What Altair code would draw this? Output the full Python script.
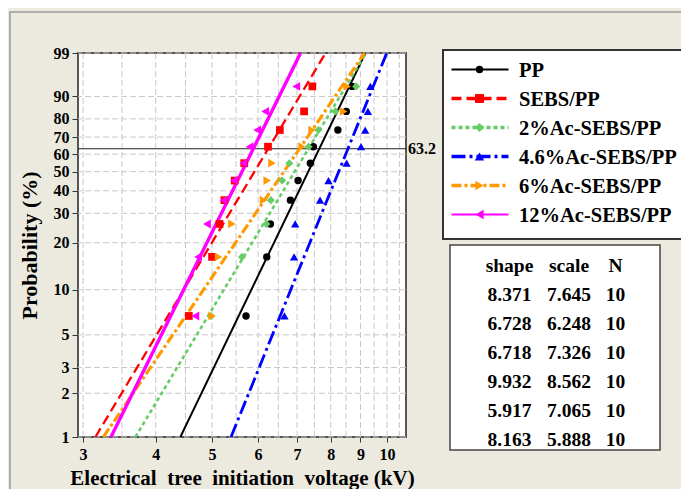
import math
import altair as alt
import pandas as pd

# ---------------- data ----------------
series = ["PP", "SEBS/PP", "2%Ac-SEBS/PP", "4.6%Ac-SEBS/PP", "6%Ac-SEBS/PP", "12%Ac-SEBS/PP"]
colors = ["#000000", "#FF0000", "#66CC66", "#0000FF", "#FF9900", "#FF00FF"]
shapes = ["circle", "square", "diamond", "triangle-up", "triangle-right", "triangle-left"]
sizes = [55, 80, 85, 90, 90, 90]
dashes = [[1, 0], [10, 5], [4, 3], [14, 4, 3, 4], [10, 3, 3, 3], [1, 0]]
widths = [2, 3.4, 3.6, 3.4, 3.4, 2]

prob = [6.7, 16.3, 26.0, 35.6, 45.2, 54.8, 64.4, 74.0, 83.7, 93.3]
v_pp = [5.72, 6.21, 6.30, 6.82, 7.03, 7.38, 7.47, 8.23, 8.51, 8.71]
v_sebs = [4.56, 5.00, 5.15, 5.25, 5.47, 5.68, 6.24, 6.54, 7.20, 7.44]
v_2ac = [4.98, 5.63, 6.20, 6.31, 6.60, 6.79, 7.33, 7.62, 8.15, 8.85]
v_46ac = [6.66, 6.92, 6.95, 7.67, 7.93, 8.52, 9.02, 9.17, 9.27, 9.36]
v_6ac = [5.00, 5.13, 5.41, 6.13, 6.22, 6.34, 7.14, 7.43, 8.42, 8.54]
v_12ac = [4.68, 4.73, 4.90, 5.23, 5.45, 5.66, 5.80, 5.98, 6.17, 6.98]
values = [v_pp, v_sebs, v_2ac, v_46ac, v_6ac, v_12ac]

# fitted lines: voltage at 1 % and at 99 %
fit_p = [1, 99]
fit_lo = [4.41, 3.15, 3.69, 5.39, 3.25, 3.35]
fit_hi = [9.18, 7.84, 9.20, 9.99, 9.15, 7.10]

shape_par = ["8.371", "6.728", "6.718", "9.932", "5.917", "8.163"]
scale_par = ["7.645", "6.248", "7.326", "8.562", "7.065", "5.888"]
n_par = ["10", "10", "10", "10", "10", "10"]

y_ticks = [1, 2, 3, 5, 10, 20, 30, 40, 50, 60, 70, 80, 90, 99]
x_ticks = [3, 4, 5, 6, 7, 8, 9, 10]
x_grid = [3, 3.5, 4, 4.5, 5, 5.5, 6, 6.5, 7, 7.5, 8, 8.5, 9, 9.5, 10, 10.5]
char_p = [63.2]

# ---------------- helpers ----------------
W, H = 328, 384
FONT = "Liberation Serif"


def wb(p):
    return math.log(-math.log(1 - p / 100.0))


YEXPR = "log(-log(1 - datum.p / 100))"
xscale = alt.Scale(type="log", domain=[2.94, 10.78], nice=False, zero=False)
yscale = alt.Scale(domain=[wb(y_ticks[0]), wb(y_ticks[-1])], nice=False, zero=False)

xaxis = alt.Axis(
    values=x_ticks, format="d", grid=False, domain=False,
    title="Electrical\u00a0 tree\u00a0 initiation\u00a0 voltage (kV)",
    tickSize=5, tickColor="#333333", labelPadding=4, labelFlush=False,
    labelFont=FONT, labelFontWeight="bold", labelFontSize=16, labelColor="black",
    titleFont=FONT, titleFontWeight="bold", titleFontSize=21, titleColor="black",
    titleY=47, titleBaseline="alphabetic",
)
yaxis = alt.Axis(
    values=[wb(t) for t in y_ticks],
    labelExpr="format(100*(1-exp(-exp(datum.value))), '.0f')",
    grid=False, domain=False, labelOverlap=False,
    title="Probability (%)",
    tickSize=6, tickColor="#333333", labelPadding=3,
    labelFont=FONT, labelFontWeight="bold", labelFontSize=16, labelColor="black",
    titleFont=FONT, titleFontWeight="bold", titleFontSize=22, titleColor="black",
    titleX=-42, titleY=H / 2, titleAngle=270, titleAlign="center", titleBaseline="alphabetic",
)

# ---------------- tables ----------------
pts = pd.DataFrame(
    [{"series": s, "v": v, "p": p} for s, vs in zip(series, values) for v, p in zip(vs, prob)]
)
fits = pd.DataFrame(
    [{"series": s, "v": v, "p": p}
     for s, lo, hi in zip(series, fit_lo, fit_hi) for v, p in zip([lo, hi], fit_p)]
)
gx = pd.DataFrame({"g": x_grid})
gy = pd.DataFrame({"p": y_ticks})
cp = pd.DataFrame({"p": char_p, "label": [str(c) for c in char_p]})

color_enc = alt.Color("series:N", scale=alt.Scale(domain=series, range=colors), legend=None)

grid_x = alt.Chart(gx).mark_rule(color="#C8C8C8", strokeDash=[6, 3], strokeWidth=1).encode(
    x=alt.X("g:Q", scale=xscale, axis=xaxis)
)
grid_y = alt.Chart(gy).transform_calculate(Y=YEXPR).mark_rule(
    color="#C8C8C8", strokeDash=[6, 3], strokeWidth=1
).encode(y=alt.Y("Y:Q", scale=yscale, axis=yaxis))

ref_line = alt.Chart(cp).transform_calculate(Y=YEXPR).mark_rule(
    color="#222222", strokeWidth=1.2
).encode(y=alt.Y("Y:Q", scale=yscale, axis=yaxis))
ref_text = alt.Chart(cp).transform_calculate(Y=YEXPR).mark_text(
    align="left", baseline="middle", font=FONT, fontWeight="bold", fontSize=16, color="black", dx=2
).encode(x=alt.value(W), y=alt.Y("Y:Q", scale=yscale, axis=yaxis), text="label:N")

lines = alt.Chart(fits).transform_calculate(Y=YEXPR).mark_line().encode(
    x=alt.X("v:Q", scale=xscale, axis=xaxis),
    y=alt.Y("Y:Q", scale=yscale, axis=yaxis),
    color=color_enc,
    strokeDash=alt.StrokeDash("series:N", scale=alt.Scale(domain=series, range=dashes), legend=None),
    strokeWidth=alt.StrokeWidth("series:N", scale=alt.Scale(domain=series, range=widths), legend=None),
    detail="series:N",
)
points = alt.Chart(pts).transform_calculate(Y=YEXPR).mark_point(
    filled=True, opacity=1, strokeWidth=0
).encode(
    x=alt.X("v:Q", scale=xscale, axis=xaxis),
    y=alt.Y("Y:Q", scale=yscale, axis=yaxis),
    color=color_enc,
    shape=alt.Shape("series:N", scale=alt.Scale(domain=series, range=shapes), legend=None),
    size=alt.Size("series:N", scale=alt.Scale(domain=series, range=sizes), legend=None),
)

one = pd.DataFrame({"a": [0]})

frame = alt.Chart(one).mark_rect(filled=False, stroke="#9A9A9A", strokeWidth=1.5).encode(
    x=alt.value(-68), x2=alt.value(700), y=alt.value(-41), y2=alt.value(520)
)

# legend box
leg_box = alt.Chart(one).mark_rect(fill="white", stroke="#333333", strokeWidth=2).encode(
    x=alt.value(365), x2=alt.value(640), y=alt.value(-3), y2=alt.value(186)
)
legend_layers = [leg_box]
for i, s in enumerate(series):
    yy = 16.5 + 29 * i
    d = pd.DataFrame({"series": [s]})
    legend_layers.append(
        alt.Chart(d).mark_rule(color=colors[i], strokeDash=dashes[i], strokeWidth=widths[i]).encode(
            x=alt.value(373.5), x2=alt.value(430.5), y=alt.value(yy)
        )
    )
    legend_layers.append(
        alt.Chart(d).mark_point(filled=True, opacity=1, strokeWidth=0, color=colors[i],
                                shape=shapes[i], size=sizes[i]).encode(
            x=alt.value(401.5), y=alt.value(yy)
        )
    )
    legend_layers.append(
        alt.Chart(d).mark_text(align="left", baseline="middle", font=FONT, fontWeight="bold",
                               fontSize=20.5, color="black").encode(
            x=alt.value(441), y=alt.value(yy + 1), text="series:N"
        )
    )

# parameter table
tab_box = alt.Chart(one).mark_rect(fill="white", stroke="#444444", strokeWidth=1.5).encode(
    x=alt.value(372), x2=alt.value(582), y=alt.value(192), y2=alt.value(397)
)
table_layers = [tab_box]
for head, col, cx in [("shape", shape_par, 431.5), ("scale", scale_par, 491), ("N", n_par, 537.5)]:
    d = pd.DataFrame({"t": [[head] + col]})
    table_layers.append(
        alt.Chart(d).mark_text(align="center", baseline="alphabetic", font=FONT, fontWeight="bold",
                               fontSize=19.5, color="black", lineHeight=29).encode(
            x=alt.value(cx), y=alt.value(218.7), text="t"
        )
    )

chart = alt.layer(
    grid_x, grid_y, ref_line, ref_text, lines, points, frame, *legend_layers, *table_layers
).properties(
    width=W, height=H,
    autosize=alt.AutoSizeParams(type="none"),
    padding={"left": 70, "top": 45, "right": 275, "bottom": 52},
    background="#ECE9DF",
).configure_view(
    fill="white", stroke="#555555", strokeWidth=2
)

chart.save("out.html", embed_options={"renderer": "svg", "actions": False})
